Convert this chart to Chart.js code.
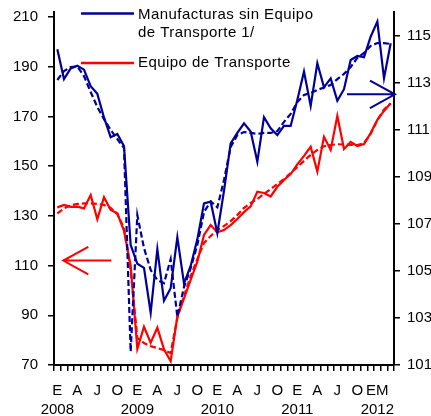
<!DOCTYPE html>
<html>
<head>
<meta charset="utf-8">
<script src="https://cdn.jsdelivr.net/npm/chart.js@4.4.1/dist/chart.umd.min.js"></script>
<style>
  html, body { margin: 0; padding: 0; background: #fff; }
</style>
</head>
<body>
<canvas id="chart" width="431" height="416"></canvas>
<script>
// ── Data ──────────────────────────────────────────────────────────────────────
// monthly, Jan 2008 .. Mar 2012

const YEARS = ['2008', '2009', '2010', '2011', '2012'];
const QUARTER_LETTERS = ['E', 'A', 'J', 'O'];   // enero, abril, julio, octubre
const LAST_LABEL = 'EM';
const N_MONTHS = 51;

const LEFT_TICKS  = [70, 90, 110, 130, 150, 170, 190, 210];
const RIGHT_TICKS = [101, 103, 105, 107, 109, 111, 113, 115];

// Manufacturas sin Equipo de Transporte (right axis)
const manuf = [
  114.42, 113.15, 113.60, 113.72, 113.55, 112.85, 112.52, 111.52, 110.68, 110.82, 110.30, 106.10,
  105.30, 105.13, 103.22, 105.92, 103.73, 104.26, 106.43, 104.47, 105.21, 106.34, 107.87, 107.94,
  106.60, 108.40, 110.42, 110.86, 111.27, 110.92, 109.64, 111.53, 111.06, 110.77, 111.16, 111.16,
  112.26, 113.47, 112.01, 113.82, 112.80, 113.18, 112.23, 112.72, 113.96, 114.13, 114.08, 114.95,
  115.59, 113.18, 114.67
];
const manufTrend = [
  113.11, 113.49, 113.66, 113.68, 113.28, 112.60, 111.96, 111.45, 110.99, 110.60, 110.22, 101.57,
  107.37, 105.97, 105.04, 104.61, 104.48, 105.50, 103.05, 104.31, 105.12, 106.10, 107.50, 107.95,
  107.70, 108.86, 110.26, 110.77, 110.90, 110.86, 110.82, 110.86, 110.86, 110.94, 111.33, 111.67,
  112.18, 112.47, 112.56, 112.69, 112.79, 112.90, 113.15, 113.37, 113.66, 114.05, 114.26, 114.56,
  114.68, 114.68, 114.64
];

// Equipo de Transporte (left axis)
const equipo = [
  133.4, 134.4, 133.6, 133.7, 133.0, 138.4, 128.6, 137.5, 132.4, 131.0, 124.0, 110.0,
  76.5, 85.4, 79.0, 85.0, 76.3, 71.5, 89.5, 96.8, 104.2, 111.6, 122.3, 126.3,
  123.4, 124.3, 126.3, 128.7, 131.5, 133.8, 139.7, 139.2, 137.8, 141.7, 144.4, 146.8,
  150.7, 154.1, 157.8, 147.8, 161.8, 156.5, 170.2, 156.9, 159.7, 158.1, 158.9, 163.3,
  168.6, 172.2, 175.3
];
const equipoTrend = [
  131.0, 133.0, 134.2, 134.8, 135.0, 135.0, 134.8, 134.4, 133.2, 130.7, 125.1, 108.0,
  80.9, 78.8, 77.6, 76.8, 76.0, 74.8, 88.9, 97.8, 105.8, 112.6, 119.1, 121.9,
  124.3, 125.9, 127.9, 130.3, 133.2, 135.2, 136.8, 138.8, 140.8, 142.8, 144.8, 147.2,
  149.6, 152.1, 154.5, 156.5, 158.0, 158.5, 158.8, 158.7, 158.5, 158.5, 159.3, 163.0,
  168.5, 172.8, 175.2
];

// arrows pointing at each series' axis
const RED_ARROW_AT  = 112;    // left axis value
const BLUE_ARROW_AT = 112.5;  // right axis value

// ── Chart ─────────────────────────────────────────────────────────────────────

const BLUE = '#000099';
const RED  = '#ff0000';

Chart.defaults.font.family = 'Arial, "Liberation Sans", sans-serif';
Chart.defaults.font.size = 15;
Chart.defaults.color = '#000';

const categories = [];
for (let i = 0; i < N_MONTHS; i++) categories.push(i);

function monthLabel(i) {
  const m = i % 12, y = Math.floor(i / 12);
  if (i === 48) return [LAST_LABEL, YEARS[y]];
  if (m % 3 !== 0) return '';
  return m === 0 ? [QUARTER_LETTERS[0], YEARS[y]] : QUARTER_LETTERS[m / 3];
}

function drawArrow(ctx, tipX, y, dir, color) {
  // dir = -1 points left, 1 points right
  const tail = tipX - dir * 48, arm = tipX - dir * 25;
  ctx.strokeStyle = color;
  ctx.lineWidth = 2;
  ctx.beginPath();
  ctx.moveTo(tail, y); ctx.lineTo(tipX, y);
  ctx.moveTo(arm, y - 13.7); ctx.lineTo(tipX, y); ctx.lineTo(arm, y + 13.7);
  ctx.stroke();
}

const overlay = {
  id: 'overlay',
  afterDraw(chart) {
    const { ctx, scales } = chart;
    ctx.save();
    drawArrow(ctx, scales.x.left + 9.3, scales.yL.getPixelForValue(RED_ARROW_AT), -1, RED);
    drawArrow(ctx, scales.x.right + 1, scales.yR.getPixelForValue(BLUE_ARROW_AT), 1, BLUE);

    // legend
    ctx.lineWidth = 2.5;
    ctx.strokeStyle = BLUE;
    ctx.beginPath(); ctx.moveTo(81, 13.5); ctx.lineTo(134, 13.5); ctx.stroke();
    ctx.strokeStyle = RED;
    ctx.beginPath(); ctx.moveTo(81, 63); ctx.lineTo(134, 63); ctx.stroke();

    ctx.fillStyle = '#000';
    ctx.font = '15px Arial, "Liberation Sans", sans-serif';
    if ('letterSpacing' in ctx) ctx.letterSpacing = '0.45px';
    ctx.textAlign = 'left';
    ctx.textBaseline = 'middle';
    ctx.fillText('Manufacturas sin Equipo', 138, 14.5);
    ctx.fillText('de Transporte 1/', 138, 32.5);
    ctx.fillText('Equipo de Transporte', 138, 62.5);
    ctx.restore();
  }
};

function lineSet(data, color, axis, dashed) {
  return {
    data,
    yAxisID: axis,
    borderColor: color,
    backgroundColor: color,
    borderWidth: 2.2,
    borderDash: dashed ? [6, 3] : [],
    pointRadius: 0,
    tension: 0,
    fill: false,
  };
}

// y axes: fixed width, and no extra room reserved for the end labels
function fitY(width) {
  return s => { s.width = width; s.paddingTop = 0; s.paddingBottom = 0; };
}

new Chart(document.getElementById('chart').getContext('2d'), {
  type: 'line',
  data: {
    labels: categories,
    datasets: [
      lineSet(manuf, BLUE, 'yR', false),
      lineSet(manufTrend, BLUE, 'yR', true),
      lineSet(equipo, RED, 'yL', false),
      lineSet(equipoTrend, RED, 'yL', true),
    ]
  },
  options: {
    responsive: false,
    animation: false,
    layout: { padding: { top: 12, left: 0, right: 0, bottom: 0 } },
    plugins: { legend: { display: false }, tooltip: { enabled: false } },
    scales: {
      x: {
        type: 'category',
        offset: true,
        afterFit: s => { s.height = 51; s.paddingLeft = 0; s.paddingRight = 0; },
        grid: { offset: true, drawOnChartArea: false, tickLength: 6, color: '#000', lineWidth: 1.5 },
        border: { color: '#000', width: 2 },
        ticks: {
          autoSkip: false, maxRotation: 0, minRotation: 0, padding: 10,
          font: { size: 15, lineHeight: 1.29 },
          callback: (v, i) => monthLabel(i)
        }
      },
      yL: {
        type: 'linear', position: 'left', min: 70, max: 212,
        afterBuildTicks: s => { s.ticks = LEFT_TICKS.map(v => ({ value: v })); },
        afterFit: fitY(54),
        grid: { drawOnChartArea: false, tickLength: 6, color: '#000', lineWidth: 1.5 },
        border: { color: '#000', width: 2 },
        ticks: { padding: 10 }
      },
      yR: {
        type: 'linear', position: 'right', min: 101, max: 116,
        afterBuildTicks: s => { s.ticks = RIGHT_TICKS.map(v => ({ value: v })); },
        afterFit: fitY(37),
        grid: { drawOnChartArea: false, tickLength: 6, color: '#000', lineWidth: 1.5 },
        border: { color: '#000', width: 2 },
        ticks: { padding: 7 }
      }
    }
  },
  plugins: [overlay]
});
</script>
</body>
</html>
